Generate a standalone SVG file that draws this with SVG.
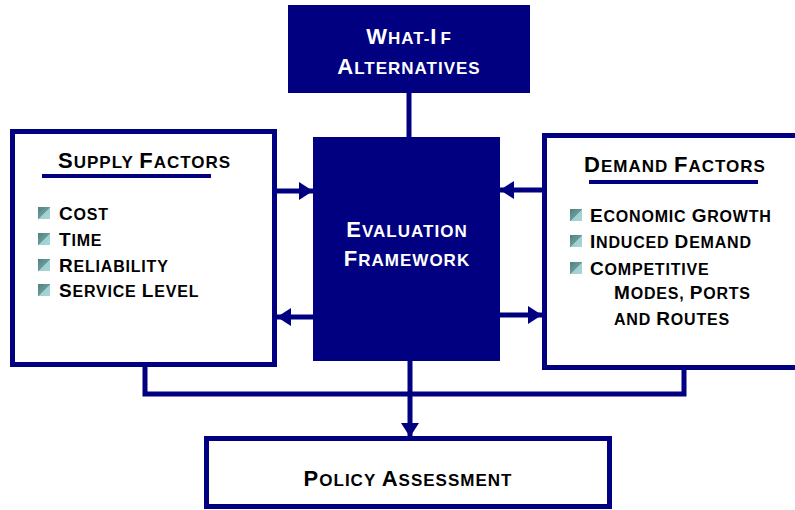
<svg xmlns="http://www.w3.org/2000/svg" width="795" height="510" viewBox="0 0 795 510">
<style>
.box{fill:#fff;stroke:#000080;stroke-width:5}
.solid{fill:#000080}
.t{font-family:"Liberation Sans",Arial,sans-serif;font-weight:bold;fill:#000;letter-spacing:1px}
.w{fill:#fff}
.it{font-family:"Liberation Sans",Arial,sans-serif;font-weight:bold;fill:#000;letter-spacing:0.8px;font-size:16px}
.it .c{font-size:19px}
.h{font-size:17px}
.h .c{font-size:22px}
.con{stroke:#000080;stroke-width:5;fill:none}
.ul{stroke:#000080;stroke-width:4}
</style>
<defs>
<linearGradient id="bg" x1="0" y1="0" x2="1" y2="1">
<stop offset="0" stop-color="#4f7f7f"/>
<stop offset="0.5" stop-color="#6a9a9a"/>
<stop offset="0.5" stop-color="#9fcfcf"/>
<stop offset="1" stop-color="#a8d6d6"/>
</linearGradient>
<rect id="bul" width="12" height="12" fill="url(#bg)"/>
<marker id="ah" markerUnits="userSpaceOnUse" markerWidth="14" markerHeight="18" refX="14" refY="9" orient="auto">
<path d="M0,0 L14,9 L0,18 z" fill="#000080"/>
</marker>
</defs>

<g id="connectors">
<line class="con" x1="409" y1="93" x2="409" y2="137"/>
<line class="con" x1="277" y1="191" x2="313" y2="191" marker-end="url(#ah)"/>
<line class="con" x1="313" y1="317" x2="277" y2="317" marker-end="url(#ah)"/>
<line class="con" x1="542" y1="190" x2="500" y2="190" marker-end="url(#ah)"/>
<line class="con" x1="500" y1="315" x2="542" y2="315" marker-end="url(#ah)"/>
<polyline class="con" points="145,363 145,394 684,394 684,366"/>
<line class="con" x1="410" y1="361" x2="410" y2="437" marker-end="url(#ah)"/>
</g>

<g id="whatif">
<rect class="solid" x="288" y="5" width="242" height="88"/>
<text class="t h w" x="409" y="44" text-anchor="middle"><tspan class="c">W</tspan>HAT-<tspan class="c">I</tspan><tspan dx="3">F</tspan></text>
<text class="t h w" x="409" y="74" text-anchor="middle"><tspan class="c">A</tspan>LTERNATIVES</text>
</g>

<g id="evaluation">
<rect class="solid" x="313" y="137" width="187" height="224"/>
<text class="t h w" x="407" y="237" text-anchor="middle"><tspan class="c">E</tspan>VALUATION</text>
<text class="t h w" x="407" y="266" text-anchor="middle"><tspan class="c">F</tspan>RAMEWORK</text>
</g>

<g id="supply">
<rect class="box" x="12.5" y="131.5" width="262" height="233"/>
<text class="t h" x="58" y="168"><tspan class="c">S</tspan>UPPLY <tspan class="c">F</tspan>ACTORS</text>
<line class="ul" x1="42" y1="176" x2="211" y2="176"/>
<use href="#bul" x="38" y="207"/>
<text class="it" x="59" y="220"><tspan class="c">C</tspan>OST</text>
<use href="#bul" x="38" y="233"/>
<text class="it" x="59" y="246"><tspan class="c">T</tspan>IME</text>
<use href="#bul" x="38" y="259"/>
<text class="it" x="59" y="272"><tspan class="c">R</tspan>ELIABILITY</text>
<use href="#bul" x="38" y="284"/>
<text class="it" x="59" y="297"><tspan class="c">S</tspan>ERVICE <tspan class="c">L</tspan>EVEL</text>
</g>

<g id="demand">
<rect class="box" x="544.5" y="135.5" width="260" height="232"/>
<text class="t h" x="584" y="172"><tspan class="c">D</tspan>EMAND <tspan class="c">F</tspan>ACTORS</text>
<line class="ul" x1="589" y1="182" x2="758" y2="182"/>
<use href="#bul" x="570" y="209"/>
<text class="it" x="590" y="222"><tspan class="c">E</tspan>CONOMIC <tspan class="c">G</tspan>ROWTH</text>
<use href="#bul" x="570" y="235"/>
<text class="it" x="590" y="248"><tspan class="c">I</tspan>NDUCED <tspan class="c">D</tspan>EMAND</text>
<use href="#bul" x="570" y="262"/>
<text class="it" x="590" y="275"><tspan class="c">C</tspan>OMPETITIVE</text>
<text class="it" x="614" y="299"><tspan class="c">M</tspan>ODES, <tspan class="c">P</tspan>ORTS</text>
<text class="it" x="614" y="325">AND <tspan class="c">R</tspan>OUTES</text>
</g>

<g id="policy">
<rect class="box" x="206.5" y="438.5" width="403" height="68"/>
<text class="t h" x="408" y="486" text-anchor="middle"><tspan class="c">P</tspan>OLICY <tspan class="c">A</tspan>SSESSMENT</text>
</g>
</svg>
